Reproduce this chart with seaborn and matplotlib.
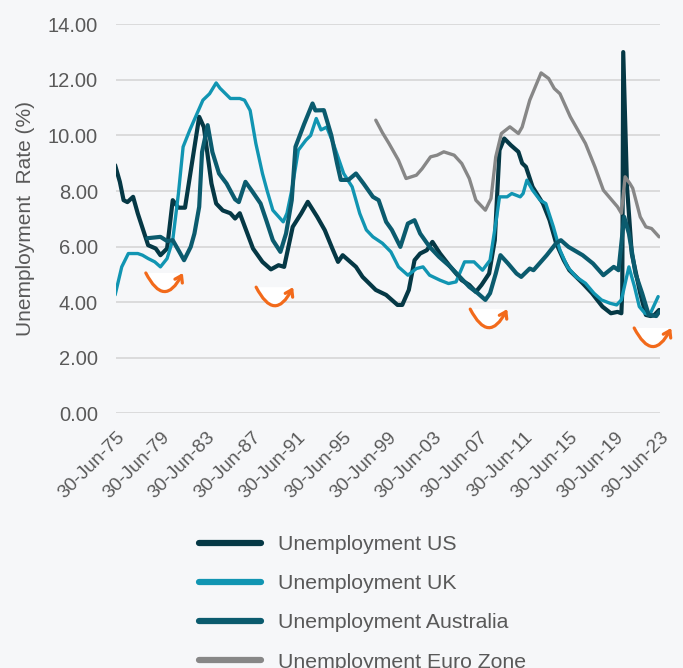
import pandas as pd
import numpy as np
import seaborn as sns
import matplotlib.pyplot as plt
import matplotlib.dates as mdates
import matplotlib.transforms as mtransforms
from matplotlib.patches import Wedge
from matplotlib.lines import Line2D

# Series
us_dates = ['1975-06', '1975-11', '1976-03', '1976-07', '1977-01', '1977-06', '1978-05', '1979-01',
            '1979-06', '1980-01', '1980-07', '1981-01', '1981-08', '1982-11', '1983-04', '1983-12',
            '1984-05', '1984-12', '1985-08', '1986-01', '1986-06', '1987-08', '1988-06', '1989-03',
            '1989-11', '1990-05', '1991-02', '1991-11', '1992-06', '1993-04', '1993-12', '1994-08',
            '1995-02', '1995-07', '1996-09', '1997-04', '1998-06', '1999-05', '2000-05', '2000-10',
            '2001-05', '2001-11', '2002-05', '2002-12', '2003-06', '2004-02', '2005-01', '2006-01',
            '2006-09', '2007-04', '2007-10', '2008-06', '2008-12', '2009-05', '2009-10', '2010-05',
            '2011-01', '2011-05', '2011-09', '2012-04', '2013-03', '2013-10', '2014-05', '2015-01',
            '2015-07', '2016-09', '2017-07', '2018-06', '2019-03', '2019-10', '2020-02', '2020-03',
            '2020-04', '2020-08', '2021-01', '2021-10', '2022-04', '2022-09', '2023-01', '2023-06']
us_rate = [8.93, 8.33, 7.67, 7.6, 7.79, 7.19, 6.05, 5.93,
           5.69, 5.93, 7.67, 7.4, 7.4, 10.67, 10.3, 8.27,
           7.55, 7.3, 7.2, 7.01, 7.2, 5.93, 5.45, 5.18,
           5.33, 5.27, 6.71, 7.19, 7.61, 7.07, 6.59, 5.93,
           5.45, 5.69, 5.27, 4.91, 4.44, 4.26, 3.9, 3.9,
           4.44, 5.51, 5.75, 5.87, 6.17, 5.75, 5.27, 4.79,
           4.62, 4.37, 4.62, 5.03, 6.23, 9.47, 9.89, 9.65,
           9.41, 9.0, 8.87, 8.15, 7.55, 6.95, 6.12, 5.51,
           5.15, 4.68, 4.32, 3.84, 3.6, 3.65, 3.6, 4.4,
           13.0, 8.15, 5.75, 4.32, 3.54, 3.5, 3.54, 3.72]

uk_dates = ['1975-06', '1976-01', '1976-08', '1977-06', '1977-11', '1978-05', '1978-12', '1979-06',
            '1980-01', '1980-07', '1981-01', '1981-06', '1982-01', '1982-08', '1983-03', '1983-10',
            '1984-05', '1984-09', '1985-08', '1986-06', '1986-11', '1987-05', '1987-11', '1988-06',
            '1988-11', '1989-05', '1990-04', '1990-08', '1991-01', '1991-08', '1992-04', '1992-09',
            '1993-03', '1993-08', '1994-02', '1994-09', '1995-08', '1996-05', '1997-01', '1997-08',
            '1998-03', '1999-01', '1999-10', '2000-06', '2001-04', '2002-01', '2002-08', '2003-03',
            '2004-02', '2004-11', '2005-07', '2006-04', '2007-02', '2007-11', '2008-07', '2009-02',
            '2009-05', '2010-01', '2010-06', '2011-03', '2011-06', '2011-10', '2012-04', '2012-12',
            '2013-06', '2014-02', '2014-09', '2015-05', '2016-02', '2016-12', '2017-09', '2018-05',
            '2019-02', '2019-09', '2020-02', '2020-10', '2021-04', '2021-09', '2022-03', '2022-08',
            '2023-05']
uk_rate = [4.26, 5.27, 5.75, 5.75, 5.69, 5.57, 5.45, 5.27,
           5.57, 6.23, 7.91, 9.59, 10.19, 10.73, 11.27, 11.5,
           11.89, 11.7, 11.33, 11.33, 11.27, 10.9, 9.71, 8.63,
           8.0, 7.31, 6.89, 7.2, 8.03, 9.47, 9.83, 10.0,
           10.61, 10.2, 10.3, 9.71, 8.63, 8.15, 7.19, 6.6,
           6.35, 6.12, 5.81, 5.27, 4.97, 5.21, 5.27, 4.97,
           4.79, 4.67, 4.73, 5.45, 5.45, 5.15, 5.51, 7.07,
           7.79, 7.79, 7.91, 7.79, 7.91, 8.39, 8.03, 7.67,
           7.55, 6.71, 5.87, 5.27, 4.91, 4.68, 4.32, 4.08,
           3.96, 3.9, 4.08, 5.27, 4.55, 3.84, 3.6, 3.54,
           4.2]

aus_dates = ['1978-04', '1979-06', '1980-01', '1980-07', '1981-02', '1981-07', '1982-02', '1982-06',
             '1982-11', '1983-02', '1983-08', '1984-01', '1984-08', '1985-04', '1986-01', '1986-05',
             '1986-12', '1987-07', '1988-04', '1988-10', '1989-05', '1990-01', '1990-07', '1991-01',
             '1991-05', '1992-02', '1992-11', '1993-02', '1993-11', '1994-07', '1995-01', '1995-05',
             '1996-01', '1996-09', '1997-05', '1998-03', '1998-09', '1999-05', '1999-11', '2000-08',
             '2001-04', '2001-11', '2002-05', '2003-03', '2004-01', '2005-01', '2005-11', '2006-09',
             '2007-06', '2008-02', '2008-07', '2009-01', '2009-06', '2010-02', '2010-11', '2011-04',
             '2012-01', '2012-05', '2013-07', '2014-05', '2014-10', '2015-06', '2016-09', '2017-08',
             '2018-07', '2019-06', '2019-11', '2020-05', '2020-10', '2021-05', '2021-12', '2022-07',
             '2023-03', '2023-06']
aus_rate = [6.3, 6.35, 6.2, 6.23, 5.81, 5.51, 5.99, 6.47,
            7.43, 9.4, 10.37, 9.4, 8.63, 8.27, 7.7, 7.6,
            8.33, 8.0, 7.55, 6.95, 6.23, 5.81, 6.47, 7.67,
            9.59, 10.4, 11.15, 10.9, 10.91, 10.0, 8.99, 8.4,
            8.4, 8.63, 8.27, 7.79, 7.67, 6.89, 6.6, 5.99,
            6.83, 6.95, 6.47, 5.99, 5.63, 5.27, 4.91, 4.55,
            4.32, 4.08, 4.32, 5.03, 5.69, 5.39, 5.03, 4.91,
            5.21, 5.15, 5.69, 6.12, 6.23, 5.99, 5.69, 5.39,
            4.97, 5.27, 5.15, 7.07, 6.47, 5.03, 4.32, 3.54,
            3.5, 3.65]

euro_dates = ['1998-06', '1999-01', '1999-08', '2000-06', '2001-02', '2002-01', '2002-07', '2003-04',
              '2003-11', '2004-06', '2005-05', '2006-01', '2006-09', '2007-04', '2008-02', '2008-08',
              '2009-01', '2009-07', '2010-04', '2011-01', '2011-05', '2012-01', '2013-01', '2013-09',
              '2014-03', '2014-09', '2015-08', '2016-04', '2016-12', '2017-10', '2018-07', '2019-04',
              '2019-10', '2020-02', '2020-06', '2020-11', '2021-02', '2021-10', '2022-04', '2022-10',
              '2023-06']
euro_rate = [10.55, 10.1, 9.71, 9.11, 8.45, 8.57, 8.8, 9.23,
             9.29, 9.41, 9.29, 8.99, 8.45, 7.67, 7.31, 7.73,
             9.23, 10.07, 10.31, 10.07, 10.3, 11.27, 12.25, 12.05,
             11.69, 11.5, 10.67, 10.19, 9.71, 8.87, 8.03, 7.67,
             7.43, 7.2, 8.51, 8.27, 8.1, 7.07, 6.71, 6.65,
             6.35]

series_names = ['Unemployment US', 'Unemployment UK', 'Unemployment Australia', 'Unemployment Euro Zone']
series_colors = ['#053845', '#1195b2', '#0b5b6e', '#878787']
series_widths = [3.0, 2.4, 3.0, 2.4]

tick_dates = ['1975-06-30', '1979-06-30', '1983-06-30', '1987-06-30', '1991-06-30', '1995-06-30',
              '1999-06-30', '2003-06-30', '2007-06-30', '2011-06-30', '2015-06-30', '2019-06-30',
              '2023-06-30']

# left start point of the orange "turning" arrows
arrow_dates = ['1978-02-15', '1987-11-10', '2006-10-01', '2021-03-20']
arrow_vals = [5.05, 4.54, 3.75, 3.07]

frames = []
for name, d, v in zip(series_names, [us_dates, uk_dates, aus_dates, euro_dates],
                      [us_rate, uk_rate, aus_rate, euro_rate]):
    frames.append(pd.DataFrame({'date': pd.to_datetime(d), 'rate': v, 'series': name}))
df = pd.concat(frames, ignore_index=True)

sns.set_style('white')
bg = '#f6f7f9'
txt = '#595959'
plt.rcParams['font.family'] = ['Liberation Sans', 'DejaVu Sans']

fig = plt.figure(figsize=(6.83, 6.68), dpi=100, facecolor=bg)
ax = fig.add_axes([116 / 683, 1 - 413.3 / 668, 544 / 683, 389 / 668])
ax.set_facecolor(bg)

sns.lineplot(data=df, x='date', y='rate', hue='series', hue_order=series_names,
             palette=dict(zip(series_names, series_colors)), sort=False, legend=False,
             estimator=None, ax=ax)
for line, w in zip(ax.get_lines(), series_widths):
    line.set_linewidth(w)
    line.set_solid_joinstyle('round')

ax.set_ylim(0, 14)
ax.set_yticks(np.arange(0, 15, 2))
ax.set_yticklabels([f'{t:.2f}' for t in np.arange(0, 15, 2)])
ticks = pd.to_datetime(tick_dates)
ax.set_xlim(ticks[0], ticks[-1])
ax.set_xticks(ticks)
ax.xaxis.set_major_formatter(mdates.DateFormatter('%d-%b-%y'))
ax.grid(axis='y', color='#d9d9d9', linewidth=1.3)
ax.grid(axis='x', visible=False)
for s in ax.spines.values():
    s.set_visible(False)
ax.tick_params(axis='y', length=0, pad=13, labelsize=14.5, labelcolor=txt)
ax.tick_params(axis='x', length=0, pad=11, labelsize=13.8, labelcolor=txt)
plt.setp(ax.get_xticklabels(), rotation=45, ha='right', rotation_mode='anchor')
ax.set_xlabel('')
ax.set_ylabel('Unemployment  Rate (%)', fontsize=15, color=txt, labelpad=9)

# orange turning arrows with white half-disc underneath
for d, v in zip(arrow_dates, arrow_vals):
    xd = mdates.date2num(pd.Timestamp(d))
    tr = fig.dpi_scale_trans + mtransforms.ScaledTranslation(xd, v, ax.transData)
    ax.add_patch(Wedge((0.175, 0.0), 0.17, 180, 360, transform=tr, facecolor='white',
                       edgecolor='none', clip_on=False, zorder=3))
    ax.annotate('', xy=(xd, v), xycoords='data', xytext=(37, 0), textcoords='offset pixels',
                annotation_clip=False, zorder=4,
                arrowprops=dict(arrowstyle='<-,head_length=0.45,head_width=0.3', color='#f26a1b',
                                lw=2.3, shrinkA=0, shrinkB=0, connectionstyle='arc3,rad=-0.97'))

handles = [Line2D([], [], color=c, lw=4.5, solid_capstyle='round') for c in series_colors]
fig.legend(handles, series_names, loc='upper left', bbox_to_anchor=(199 / 683, 1 - 535 / 668),
           frameon=False, fontsize=15.3, labelcolor=txt, handlelength=2.9, handletextpad=0.8,
           labelspacing=0.95, borderpad=0, borderaxespad=0)

fig.savefig('out.png', dpi=100, facecolor=bg)
